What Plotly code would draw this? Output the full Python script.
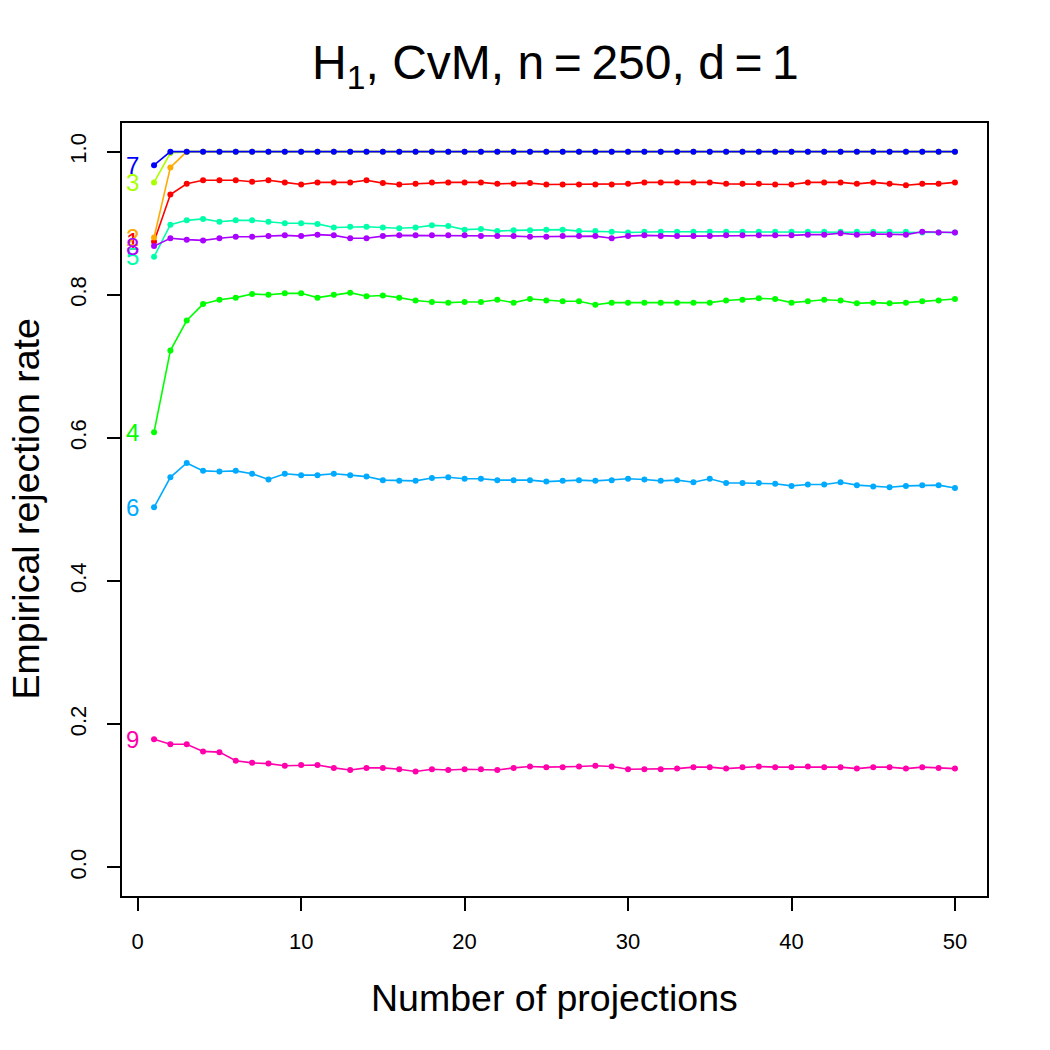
import plotly.graph_objects as go

projections = list(range(1, 51))
series_names = ["1", "2", "3", "4", "5", "6", "7", "8", "9"]
series_colors = ["#FF0000", "#FFAA00", "#AAFF00", "#00FF00", "#00FFAA",
                 "#00AAFF", "#0000FF", "#AA00FF", "#FF00AA"]

s1 = [0.874, 0.940, 0.955, 0.960, 0.960, 0.960, 0.958, 0.960, 0.957, 0.954,
      0.957, 0.957, 0.957, 0.960, 0.956, 0.954, 0.955, 0.957, 0.957, 0.957,
      0.957, 0.955, 0.955, 0.956, 0.954, 0.954, 0.954, 0.954, 0.954, 0.955,
      0.957, 0.957, 0.957, 0.957, 0.957, 0.955, 0.955, 0.955, 0.954, 0.954,
      0.957, 0.957, 0.957, 0.955, 0.957, 0.955, 0.953, 0.955, 0.955, 0.957]
s2 = [0.880, 0.978, 1.000, 1.000, 1.000, 1.000, 1.000, 1.000, 1.000, 1.000,
      1.000, 1.000, 1.000, 1.000, 1.000, 1.000, 1.000, 1.000, 1.000, 1.000,
      1.000, 1.000, 1.000, 1.000, 1.000, 1.000, 1.000, 1.000, 1.000, 1.000,
      1.000, 1.000, 1.000, 1.000, 1.000, 1.000, 1.000, 1.000, 1.000, 1.000,
      1.000, 1.000, 1.000, 1.000, 1.000, 1.000, 1.000, 1.000, 1.000, 1.000]
s3 = [0.957, 0.998, 1.000, 1.000, 1.000, 1.000, 1.000, 1.000, 1.000, 1.000,
      1.000, 1.000, 1.000, 1.000, 1.000, 1.000, 1.000, 1.000, 1.000, 1.000,
      1.000, 1.000, 1.000, 1.000, 1.000, 1.000, 1.000, 1.000, 1.000, 1.000,
      1.000, 1.000, 1.000, 1.000, 1.000, 1.000, 1.000, 1.000, 1.000, 1.000,
      1.000, 1.000, 1.000, 1.000, 1.000, 1.000, 1.000, 1.000, 1.000, 1.000]
s4 = [0.608, 0.722, 0.764, 0.787, 0.793, 0.796, 0.801, 0.800, 0.802, 0.802,
      0.796, 0.800, 0.803, 0.798, 0.799, 0.796, 0.792, 0.790, 0.789, 0.790,
      0.790, 0.793, 0.789, 0.794, 0.792, 0.791, 0.791, 0.786, 0.789, 0.789,
      0.789, 0.789, 0.789, 0.789, 0.789, 0.792, 0.793, 0.795, 0.794, 0.789,
      0.791, 0.793, 0.792, 0.788, 0.789, 0.788, 0.789, 0.791, 0.792, 0.794]
s5 = [0.853, 0.898, 0.904, 0.906, 0.902, 0.904, 0.904, 0.902, 0.900, 0.900,
      0.899, 0.894, 0.895, 0.895, 0.894, 0.893, 0.894, 0.897, 0.896, 0.891,
      0.892, 0.889, 0.890, 0.890, 0.891, 0.891, 0.889, 0.889, 0.888, 0.887,
      0.888, 0.888, 0.888, 0.888, 0.888, 0.888, 0.888, 0.888, 0.888, 0.888,
      0.888, 0.888, 0.888, 0.888, 0.888, 0.888, 0.888, 0.887, 0.887, 0.887]
s6 = [0.503, 0.545, 0.565, 0.554, 0.553, 0.554, 0.550, 0.542, 0.550, 0.548,
      0.548, 0.550, 0.548, 0.546, 0.541, 0.540, 0.540, 0.544, 0.545, 0.543,
      0.543, 0.541, 0.541, 0.541, 0.539, 0.540, 0.541, 0.540, 0.541, 0.543,
      0.542, 0.540, 0.541, 0.538, 0.543, 0.537, 0.537, 0.537, 0.536, 0.533,
      0.535, 0.535, 0.538, 0.534, 0.532, 0.531, 0.533, 0.534, 0.534, 0.530]
s7 = [0.981, 1.000, 1.000, 1.000, 1.000, 1.000, 1.000, 1.000, 1.000, 1.000,
      1.000, 1.000, 1.000, 1.000, 1.000, 1.000, 1.000, 1.000, 1.000, 1.000,
      1.000, 1.000, 1.000, 1.000, 1.000, 1.000, 1.000, 1.000, 1.000, 1.000,
      1.000, 1.000, 1.000, 1.000, 1.000, 1.000, 1.000, 1.000, 1.000, 1.000,
      1.000, 1.000, 1.000, 1.000, 1.000, 1.000, 1.000, 1.000, 1.000, 1.000]
s8 = [0.868, 0.879, 0.877, 0.876, 0.879, 0.881, 0.881, 0.882, 0.883, 0.882,
      0.884, 0.883, 0.879, 0.879, 0.882, 0.883, 0.883, 0.883, 0.883, 0.883,
      0.882, 0.882, 0.882, 0.881, 0.881, 0.882, 0.882, 0.882, 0.879, 0.882,
      0.883, 0.882, 0.882, 0.882, 0.882, 0.883, 0.883, 0.883, 0.883, 0.883,
      0.884, 0.884, 0.886, 0.884, 0.885, 0.884, 0.884, 0.888, 0.887, 0.887]
s9 = [0.179, 0.172, 0.172, 0.162, 0.161, 0.149, 0.146, 0.145, 0.142, 0.143,
      0.143, 0.139, 0.136, 0.139, 0.139, 0.137, 0.134, 0.137, 0.136, 0.137,
      0.137, 0.136, 0.139, 0.141, 0.140, 0.140, 0.141, 0.142, 0.141, 0.137,
      0.137, 0.137, 0.138, 0.140, 0.140, 0.138, 0.140, 0.141, 0.140, 0.140,
      0.141, 0.140, 0.140, 0.138, 0.140, 0.140, 0.138, 0.140, 0.139, 0.138]

all_series = [s1, s2, s3, s4, s5, s6, s7, s8, s9]

x_ticks = [0, 10, 20, 30, 40, 50]
y_ticks = [0.0, 0.2, 0.4, 0.6, 0.8, 1.0]
y_tick_labels = ["0.0", "0.2", "0.4", "0.6", "0.8", "1.0"]

FONT = "Liberation Sans, Arial, Helvetica, sans-serif"

fig = go.Figure()
for name, color, vals in zip(series_names, series_colors, all_series):
    fig.add_trace(go.Scatter(
        x=projections, y=vals, mode="lines+markers", name=name,
        line=dict(color=color, width=1.6),
        marker=dict(color=color, size=6),
        showlegend=False,
    ))

annotations = []
for name, color, vals in zip(series_names, series_colors, all_series):
    annotations.append(dict(
        x=-0.3, y=vals[0], xref="x", yref="y", text=name, showarrow=False,
        font=dict(family=FONT, size=24, color=color),
        xanchor="center", yanchor="middle",
    ))

annotations.append(dict(
    x=0.5, y=-0.132, xref="paper", yref="paper", text="Number of projections",
    showarrow=False, font=dict(family=FONT, size=37.5, color="black"),
    xanchor="center", yanchor="middle",
))
annotations.append(dict(
    x=-0.112, y=0.5, xref="paper", yref="paper", text="Empirical rejection rate",
    showarrow=False, textangle=-90, font=dict(family=FONT, size=37.5, color="black"),
    xanchor="center", yanchor="middle",
))

fig.update_layout(
    width=1050, height=1050, autosize=False,
    margin=dict(l=122, r=63, t=123, b=154),
    paper_bgcolor="white", plot_bgcolor="white",
    title=dict(
        text="H<sub>1</sub>, CvM, n\u2009=\u2009250, d\u2009=\u20091",
        x=(122 + 554) / 1050 / 1.217, xanchor="center", xref="container",
        y=1 - 62 / 1050, yanchor="middle", yref="container",
        font=dict(family=FONT, size=48, color="black"),
    ),
    annotations=annotations,
    xaxis=dict(
        range=[-0.96, 51.96], tickvals=x_ticks,
        showgrid=False, zeroline=False,
        showline=True, mirror=True, linecolor="black", linewidth=1.5,
        ticks="outside", ticklen=13, tickwidth=1.5, tickcolor="black",
        tickfont=dict(family=FONT, size=22, color="black"),
        ticklabelstandoff=12,
    ),
    yaxis=dict(
        range=[-0.04, 1.04], tickvals=y_ticks, ticktext=y_tick_labels,
        showgrid=False, zeroline=False,
        showline=True, mirror=True, linecolor="black", linewidth=1.5,
        ticks="outside", ticklen=13, tickwidth=1.5, tickcolor="black",
        tickfont=dict(family=FONT, size=22, color="black"),
        tickangle=-90, ticklabelstandoff=12,
    ),
)

fig.write_html("out.html")
